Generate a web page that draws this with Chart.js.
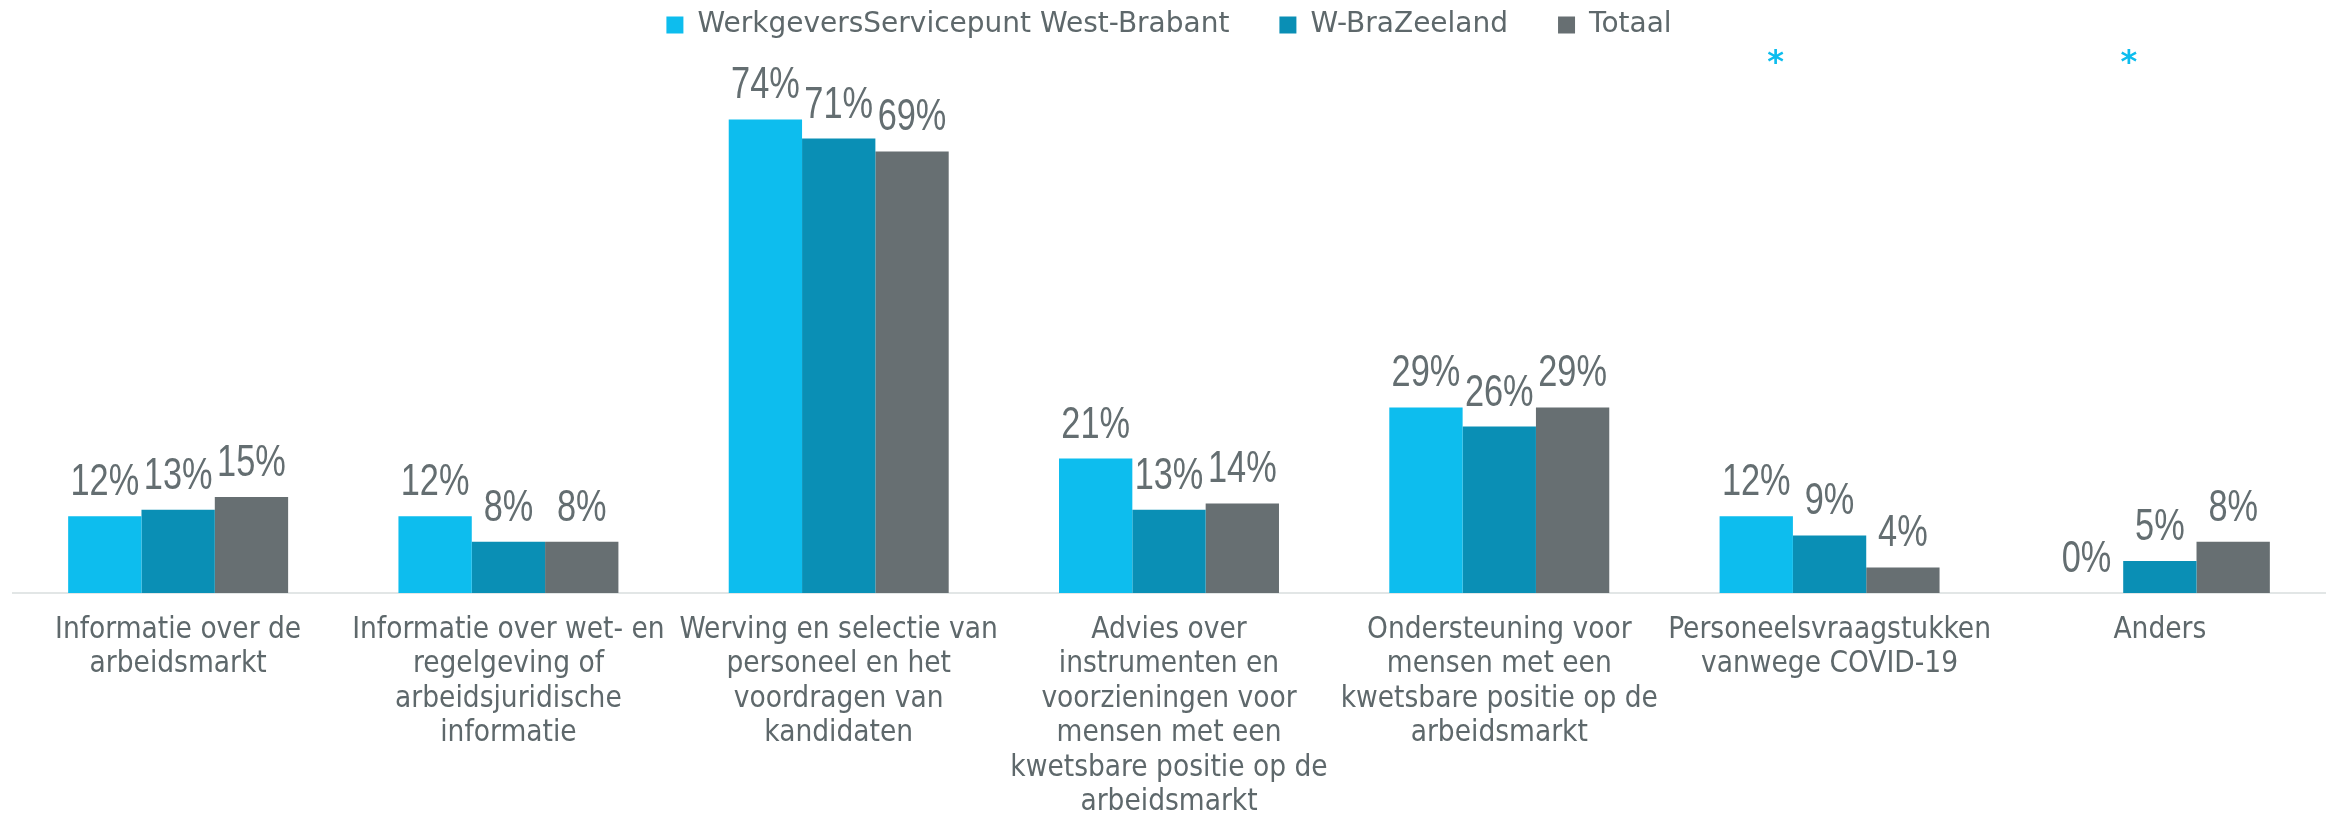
<!DOCTYPE html>
<html>
<head>
<meta charset="utf-8">
<script src="https://cdn.jsdelivr.net/npm/chart.js@4/dist/chart.umd.min.js"></script>
<style>
  html, body { margin: 0; padding: 0; background: #fff; }
  #wrap { width: 2328px; height: 813px; }
</style>
</head>
<body>
<div id="wrap"><canvas id="chart"></canvas></div>
<script>
const categories = [
  ['Informatie over de', 'arbeidsmarkt'],
  ['Informatie over wet- en', 'regelgeving of', 'arbeidsjuridische', 'informatie'],
  ['Werving en selectie van', 'personeel en het', 'voordragen van', 'kandidaten'],
  ['Advies over', 'instrumenten en', 'voorzieningen voor', 'mensen met een', 'kwetsbare positie op de', 'arbeidsmarkt'],
  ['Ondersteuning voor', 'mensen met een', 'kwetsbare positie op de', 'arbeidsmarkt'],
  ['Personeelsvraagstukken', 'vanwege COVID-19'],
  ['Anders']
]
const seriesNames = ['WerkgeversServicepunt West-Brabant', 'W-BraZeeland', 'Totaal']
const wspWestBrabant = [12, 12, 74, 21, 29, 12, 0]
const wBraZeeland = [13, 8, 71, 13, 26, 9, 5]
const totaal = [15, 8, 69, 14, 29, 4, 8]
const colors = ['#0dbdee', '#0a8fb5', '#676f72']
// categories marked with an asterisk (small base)
const starred = [5, 6]

const textColor = '#5e686b'
const tickFont = "'DejaVu Sans Condensed', 'DejaVu Sans', sans-serif"

const barLabels = {
  id: 'barLabels',
  afterDatasetsDraw(chart) {
    const ctx = chart.ctx
    ctx.save()
    ctx.fillStyle = '#646e71'
    ctx.font = "44px 'Liberation Sans', sans-serif"
    ctx.textAlign = 'center'
    ctx.textBaseline = 'alphabetic'
    chart.data.datasets.forEach((ds, i) => {
      const meta = chart.getDatasetMeta(i)
      meta.data.forEach((bar, j) => {
        ctx.save()
        ctx.translate(bar.x, bar.y - 21)
        ctx.scale(0.78, 1)
        ctx.fillText(ds.data[j] + '%', 0, 0)
        ctx.restore()
      })
    })
    ctx.restore()
  }
}

const asterisks = {
  id: 'asterisks',
  afterDraw(chart, args, opts) {
    const ctx = chart.ctx
    const x = chart.scales.x
    ctx.save()
    ctx.fillStyle = '#0dbdee'
    ctx.font = "bold 32px 'DejaVu Sans', sans-serif"
    ctx.textAlign = 'center'
    ctx.textBaseline = 'middle'
    starred.forEach((idx, k) => {
      ctx.fillText('*', x.getPixelForValue(idx) + opts.dx[k], opts.y)
    })
    ctx.restore()
  }
}

new Chart(document.getElementById('chart'), {
  type: 'bar',
  data: {
    labels: categories,
    datasets: [
      { label: seriesNames[0], data: wspWestBrabant, backgroundColor: colors[0] },
      { label: seriesNames[1], data: wBraZeeland, backgroundColor: colors[1] },
      { label: seriesNames[2], data: totaal, backgroundColor: colors[2] }
    ]
  },
  options: {
    responsive: true,
    maintainAspectRatio: false,
    animation: false,
    layout: { padding: { left: 13, right: 3, top: -39, bottom: 0 } },
    datasets: { bar: { categoryPercentage: 0.666, barPercentage: 1 } },
    scales: {
      x: {
        grid: { display: false, drawTicks: false },
        border: { display: true, color: '#e2e6e6', width: 2 },
        ticks: {
          autoSkip: false,
          maxRotation: 0,
          padding: 20,
          color: textColor,
          font: { family: tickFont, size: 29.5, lineHeight: 1.17 }
        },
        afterFit: s => { s.height = 220 }
      },
      y: {
        display: false,
        min: 0,
        max: 85
      }
    },
    plugins: {
      legend: {
        position: 'top',
        labels: {
          boxWidth: 17,
          boxHeight: 17,
          padding: 50,
          color: textColor,
          font: { family: "'DejaVu Sans', sans-serif", size: 28 }
        }
      },
      tooltip: { enabled: false },
      asterisks: { dx: [-54, -31], y: 64 }
    }
  },
  plugins: [barLabels, asterisks]
})
</script>
</body>
</html>
